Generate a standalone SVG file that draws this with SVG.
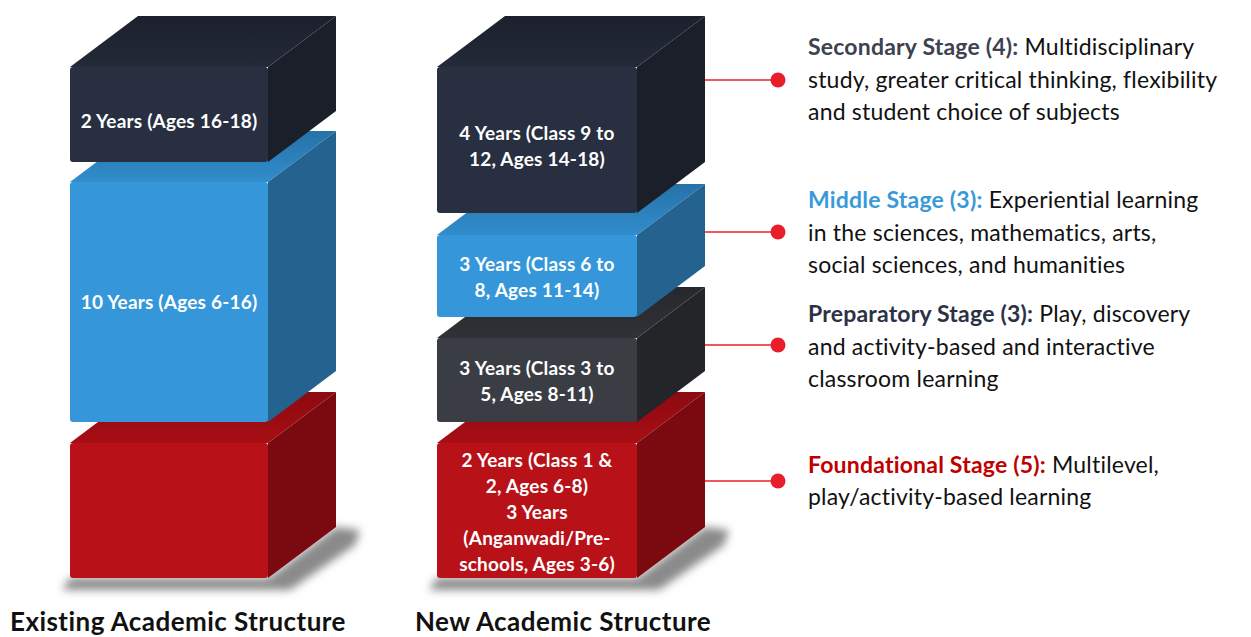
<svg xmlns="http://www.w3.org/2000/svg" width="1251" height="637" viewBox="0 0 1251 637">
<defs>
<style>
text{font-family:Lato,"Liberation Sans",sans-serif}
.lbl{fill:#fff;font-weight:bold;font-size:19px;letter-spacing:0.2px;text-anchor:middle}
.title{fill:#111;font-weight:bold;font-size:26px;letter-spacing:0.45px}
.desc{fill:#111;font-size:23px;letter-spacing:0.2px}
.conn line{stroke:#e8202a;stroke-width:1.5}
.conn circle{fill:#e81f2b}
.nF{fill:#272f41}.nT{fill:url(#gN)}.nS{fill:#1b1f2a}
.bF{fill:#3597da}.bT{fill:url(#gB)}.bS{fill:#24638f}
.gF{fill:#3a3d44}.gT{fill:url(#gG)}.gS{fill:#232528}
.rF{fill:#b81117}.rT{fill:url(#gR)}.rS{fill:#7b0a10}
</style>
<linearGradient id="gN" x1="0" y1="0" x2="0" y2="1"><stop offset="0" stop-color="#1c202c"/><stop offset="1" stop-color="#232a38"/></linearGradient>
<linearGradient id="gB" x1="0" y1="0" x2="0" y2="1"><stop offset="0" stop-color="#2672a8"/><stop offset="1" stop-color="#318dcc"/></linearGradient>
<linearGradient id="gG" x1="0" y1="0" x2="0" y2="1"><stop offset="0" stop-color="#26282c"/><stop offset="1" stop-color="#303237"/></linearGradient>
<linearGradient id="gR" x1="0" y1="0" x2="0" y2="1"><stop offset="0" stop-color="#8c0a10"/><stop offset="1" stop-color="#a80e15"/></linearGradient>
<filter id="blur" x="-20%" y="-50%" width="140%" height="200%"><feGaussianBlur stdDeviation="4"/></filter>
</defs>
<rect width="1251" height="637" fill="#fff"/>

<g id="shadows" fill="#8a8a8a" filter="url(#blur)">
<polygon points="62,590 290,590 355,545 360,530 336,527 268,578 70,578"/>
<polygon points="429,590 659,590 724,545 729,530 705,527 637,578 437,578"/>
</g>

<g id="old-foundational">
<polygon class="rT" points="70,443 268,443 336,392 138,392"/>
<polygon class="rS" points="268,443 336,392 336,527 268,578"/>
<rect class="rF" x="70" y="443" width="198" height="135" rx="3"/>
</g>
<g id="old-ten-years">
<polygon class="bT" points="70,182 268,182 336,131 138,131"/>
<polygon class="bS" points="268,182 336,131 336,371 268,422"/>
<rect class="bF" x="70" y="182" width="198" height="240" rx="3"/>
<text class="lbl" x="169" y="309">10 Years (Ages 6-16)</text>
</g>
<g id="old-two-years">
<polygon class="nT" points="70,67 268,67 336,16 138,16"/>
<polygon class="nS" points="268,67 336,16 336,111 268,162"/>
<rect class="nF" x="70" y="67" width="198" height="95" rx="3"/>
<text class="lbl" x="169" y="128">2 Years (Ages 16-18)</text>
</g>

<g id="new-foundational">
<polygon class="rT" points="437,443 637,443 705,392 505,392"/>
<polygon class="rS" points="637,443 705,392 705,527 637,578"/>
<rect class="rF" x="437" y="443" width="200" height="135" rx="3"/>
<text class="lbl" x="537" y="467">2 Years (Class 1 &amp;</text>
<text class="lbl" x="537" y="493">2, Ages 6-8)</text>
<text class="lbl" x="537" y="519">3 Years</text>
<text class="lbl" x="537" y="545">(Anganwadi/Pre-</text>
<text class="lbl" x="537" y="571">schools, Ages 3-6)</text>
</g>
<g id="new-preparatory">
<polygon class="gT" points="437,338 637,338 705,287 505,287"/>
<polygon class="gS" points="637,338 705,287 705,371 637,422"/>
<rect class="gF" x="437" y="338" width="200" height="84" rx="3"/>
<text class="lbl" x="537" y="375">3 Years (Class 3 to</text>
<text class="lbl" x="537" y="401">5, Ages 8-11)</text>
</g>
<g id="new-middle">
<polygon class="bT" points="437,235 637,235 705,184 505,184"/>
<polygon class="bS" points="637,235 705,184 705,266 637,317"/>
<rect class="bF" x="437" y="235" width="200" height="82" rx="3"/>
<text class="lbl" x="537" y="271">3 Years (Class 6 to</text>
<text class="lbl" x="537" y="297">8, Ages 11-14)</text>
</g>
<g id="new-secondary">
<polygon class="nT" points="437,67 637,67 705,16 505,16"/>
<polygon class="nS" points="637,67 705,16 705,162 637,213"/>
<rect class="nF" x="437" y="67" width="200" height="146" rx="3"/>
<text class="lbl" x="537" y="140">4 Years (Class 9 to</text>
<text class="lbl" x="537" y="166">12, Ages 14-18)</text>
</g>

<g id="connectors" class="conn">
<line x1="705" y1="80" x2="777" y2="80"/><circle cx="778" cy="80" r="7.5"/>
<line x1="705" y1="232" x2="777" y2="232"/><circle cx="778" cy="232" r="7.5"/>
<line x1="705" y1="345" x2="777" y2="345"/><circle cx="778" cy="345" r="7.5"/>
<line x1="705" y1="481" x2="777" y2="481"/><circle cx="778" cy="481" r="7.5"/>
</g>

<g id="desc-secondary">
<text class="desc" x="808" y="55"><tspan font-weight="bold" fill="#3d4150">Secondary Stage (4):</tspan> Multidisciplinary</text>
<text class="desc" x="808" y="88">study, greater critical thinking, flexibility</text>
<text class="desc" x="808" y="120">and student choice of subjects</text>
</g>
<g id="desc-middle">
<text class="desc" x="808" y="208"><tspan font-weight="bold" fill="#3a9ad9">Middle Stage (3):</tspan> Experiential learning</text>
<text class="desc" x="808" y="241">in the sciences, mathematics, arts,</text>
<text class="desc" x="808" y="273">social sciences, and humanities</text>
</g>
<g id="desc-preparatory">
<text class="desc" x="808" y="322"><tspan font-weight="bold" fill="#2b3245">Preparatory Stage (3):</tspan> Play, discovery</text>
<text class="desc" x="808" y="355">and activity-based and interactive</text>
<text class="desc" x="808" y="387">classroom learning</text>
</g>
<g id="desc-foundational">
<text class="desc" x="808" y="473"><tspan font-weight="bold" fill="#c00000">Foundational Stage (5):</tspan> Multilevel,</text>
<text class="desc" x="808" y="505">play/activity-based learning</text>
</g>

<g id="titles">
<text class="title" x="10" y="631">Existing Academic Structure</text>
<text class="title" x="415" y="631">New Academic Structure</text>
</g>
</svg>
